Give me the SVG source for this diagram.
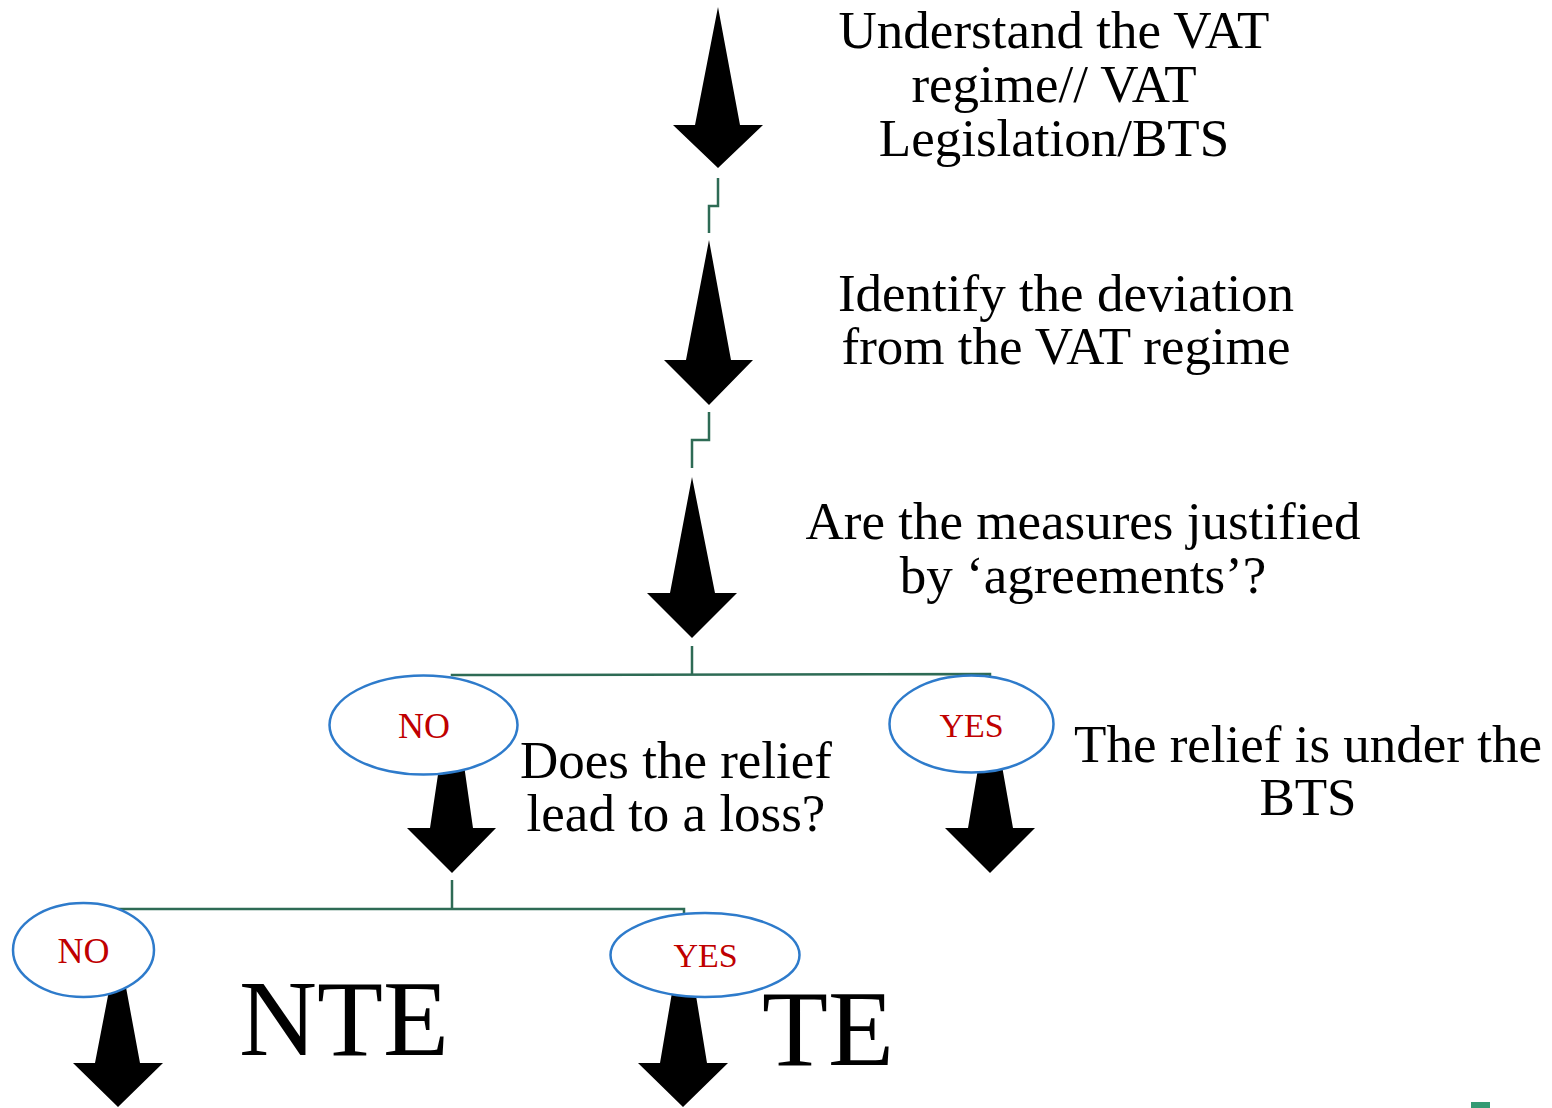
<svg xmlns="http://www.w3.org/2000/svg" width="1552" height="1108" viewBox="0 0 1552 1108">
<style>
.arrow{fill:#000}
.conn{fill:none;stroke:#2E6B55;stroke-width:2.5}
.oval{fill:#fff;stroke:#2E7BCB;stroke-width:2.5}
.lbl{font-family:"Liberation Serif","Times New Roman",serif;fill:#C00000;text-anchor:middle}
.txt{font-family:"Liberation Serif","Times New Roman",serif;fill:#000;text-anchor:middle;font-size:53px}
.big{font-family:"Liberation Serif","Times New Roman",serif;fill:#000;font-size:108px}
</style>
<rect width="1552" height="1108" fill="#fff"/>
<g id="connectors">
<polyline class="conn" points="718,178 718,206 709,206 709,233"/>
<polyline class="conn" points="709,412 709,440 692,440 692,468"/>
<polyline class="conn" points="692,646 692,675"/>
<polyline class="conn" points="452,676 452,675 990,674 990,676"/>
<polyline class="conn" points="452,880 452,909"/>
<polyline class="conn" points="118,909 684,909 684,914"/>
</g>
<g id="step1">
<polygon class="arrow" points="718,7 740,125 763,125 718,168 673,125 695,125"/>
<text class="txt" x="1054" y="48">Understand the VAT</text>
<text class="txt" x="1054" y="102">regime// VAT</text>
<text class="txt" x="1054" y="156">Legislation/BTS</text>
</g>
<g id="step2">
<polygon class="arrow" points="709,240 731,360 753,360 709,405 664,360 686,360"/>
<text class="txt" x="1066" y="311">Identify the deviation</text>
<text class="txt" x="1066" y="364">from the VAT regime</text>
</g>
<g id="step3">
<polygon class="arrow" points="692,477 715,593 737,593 692,638 647,593 670,593"/>
<text class="txt" x="1083" y="539">Are the measures justified</text>
<text class="txt" x="1083" y="593">by ‘agreements’?</text>
</g>
<g id="no1">
<polygon class="arrow" points="452,681 473,828 496,828 452,873 407,828 430,828"/>
<ellipse class="oval" cx="423.5" cy="725" rx="94" ry="49.5"/>
<text class="lbl" x="424" y="738" font-size="36">NO</text>
<text class="txt" x="676" y="778">Does the relief</text>
<text class="txt" x="676" y="831">lead to a loss?</text>
</g>
<g id="yes1">
<polygon class="arrow" points="990,698 1013,828 1035,828 990,873 945,828 968,828"/>
<ellipse class="oval" cx="971.5" cy="724" rx="82" ry="48.5"/>
<text class="lbl" x="971.5" y="737" font-size="34">YES</text>
<text class="txt" x="1308" y="762">The relief is under the</text>
<text class="txt" x="1308" y="815">BTS</text>
</g>
<g id="no2">
<polygon class="arrow" points="118,944 140,1063 163,1063 118,1107 73,1063 95,1063"/>
<ellipse class="oval" cx="83.5" cy="950" rx="70.5" ry="47"/>
<text class="lbl" x="83.5" y="963" font-size="36">NO</text>
<text class="big" x="239" y="1055">NTE</text>
</g>
<g id="yes2">
<polygon class="arrow" points="684,922 707,1063 728,1063 683,1107 638,1063 660,1063"/>
<ellipse class="oval" cx="705" cy="955" rx="94.5" ry="42"/>
<text class="lbl" x="705.5" y="967" font-size="34">YES</text>
<text class="big" x="762" y="1065">TE</text>
</g>
<rect x="1471" y="1102" width="19" height="6" fill="#339A73"/>
</svg>
